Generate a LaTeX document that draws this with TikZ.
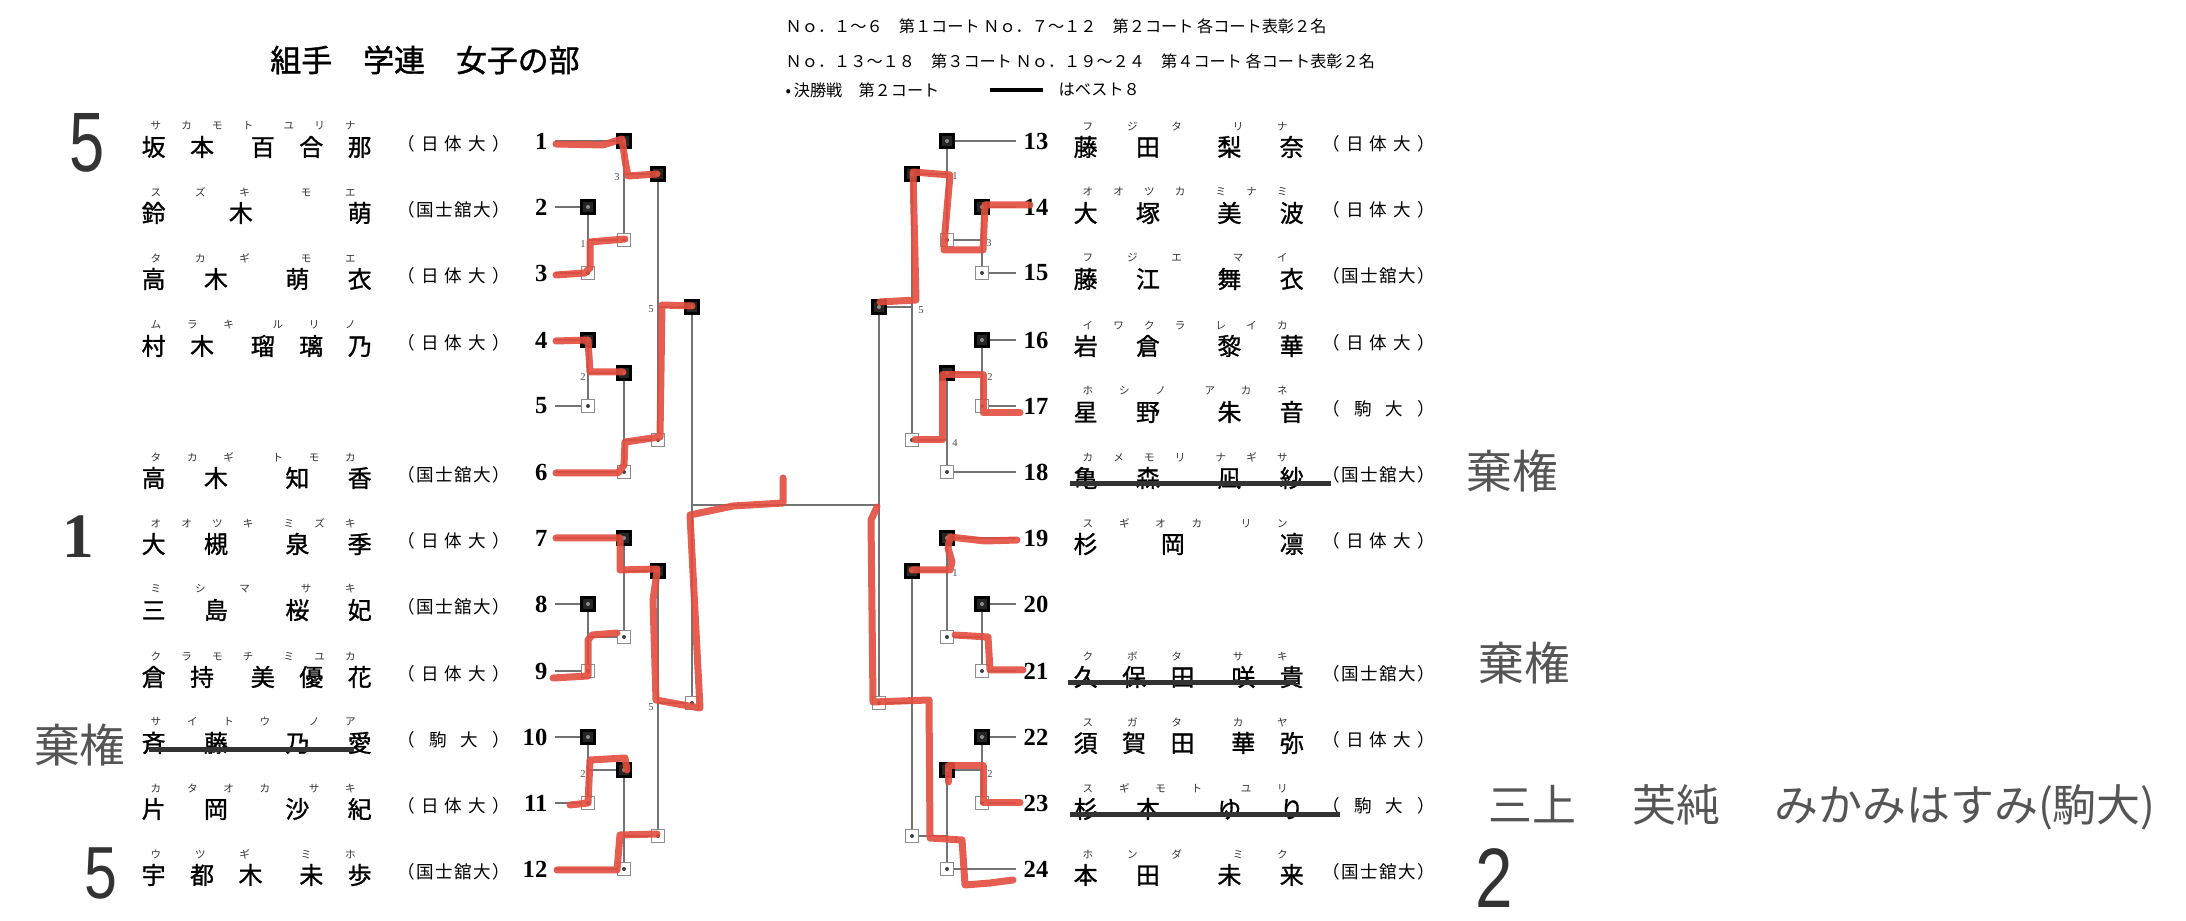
\documentclass[tikz,border=0pt]{standalone}
\usepackage{fontspec}
\setmainfont{Liberation Serif}
\newfontfamily\jp[AutoFakeBold=1.2]{Noto Sans CJK JP}
\newfontfamily\handfont{Liberation Sans}
\definecolor{handred}{RGB}{226,77,62}
\definecolor{notegray}{RGB}{85,85,85}

% spread the characters of a word over a fixed width
\newcommand{\spreadtxt}[1]{\spreadA#1\relax}
\def\spreadA#1#2\relax{#1\ifx\relax#2\relax\else\hfil\spreadA#2\relax\fi}
\newcommand{\plname}[2]{\hbox to 23mm{\spreadtxt{#1}\hfil\hskip 0pt plus .5fil\spreadtxt{#2}}}
\newcommand{\plkana}[2]{\hbox to 20.5mm{\spreadtxt{#1}\hfil\hskip 0pt plus .5fil\spreadtxt{#2}}}
\newcommand{\plschool}[1]{\hbox to 11.2mm{\spreadtxt{#1}}}

\begin{document}
\begin{tikzpicture}[x=0.1mm,y=-0.1mm,
  bline/.style={draw=black!55,line width=0.35pt},
  wbox/.style={draw=black,fill=black!85,line width=0.6pt,minimum size=1.3mm,inner sep=0pt,path picture={\fill[black!45] (path picture bounding box.center) circle (0.2mm);}},
  lbox/.style={draw=black!45,fill=white,line width=0.5pt,minimum size=1.3mm,inner sep=0pt,path picture={\fill[black!75] (path picture bounding box.center) circle (0.2mm);}},
  nm/.style={anchor=west,inner sep=0pt,font=\jp\bfseries\fontsize{6.8pt}{7pt}\selectfont},
  kn/.style={anchor=west,inner sep=0pt,font=\jp\fontsize{3pt}{3pt}\selectfont,text=black!80},
  sc/.style={anchor=west,inner sep=0pt,font=\jp\fontsize{5pt}{5pt}\selectfont},
  numl/.style={anchor=east,inner sep=0.7mm,font=\bfseries\fontsize{7pt}{7pt}\selectfont},
  numr/.style={anchor=west,inner sep=0.7mm,font=\bfseries\fontsize{7pt}{7pt}\selectfont},
  mlab/.style={inner sep=0pt,font=\fontsize{3pt}{3pt}\selectfont,text=black!70},
  hdr/.style={anchor=west,inner sep=0pt,font=\jp\fontsize{4.6pt}{5pt}\selectfont},
  note/.style={inner sep=0pt,text=notegray,font=\jp\fontsize{13pt}{14pt}\selectfont},
  hand/.style={inner sep=0pt,text=black!80,font=\handfont\fontsize{24pt}{24pt}\selectfont},
  strike/.style={draw=black!80,line width=0.5mm},
  redpen/.style={draw=handred,line width=0.7mm,line cap=round,line join=round,opacity=0.9}]

\useasboundingbox (0,0) rectangle (2186,921);

% header
\node[inner sep=0pt,font=\jp\bfseries\fontsize{8.8pt}{9pt}\selectfont] (title) at (425,60) {組手　学連　女子の部};
\node[hdr] (h1) at (785,26) {Ｎｏ．１～６　第１コート Ｎｏ．７～１２　第２コート 各コート表彰２名};
\node[hdr] (h2) at (785,61) {Ｎｏ．１３～１８　第３コート Ｎｏ．１９～２４　第４コート 各コート表彰２名};
\node[hdr] (h3) at (785,90) {•\,決勝戦　第２コート};
\node[hdr] (h4) at (1058,90) {はベスト８};
\draw[line width=0.45mm] ([xshift=5mm]h3.east) -- ([xshift=-1.5mm]h4.west);

% left names
\node[nm] (nm1) at (141,147) {\plname{坂本}{百合那}};
\node[kn] (kn1) at (150,126) {\plkana{サカモト}{ユリナ}};
\node[sc] (sc1) at (397,144) {\plschool{（日体大）}};
\node[numl] (e1) at (555,141) {1};
\node[nm] (nm2) at (141,213) {\plname{鈴木}{萌}};
\node[kn] (kn2) at (150,192) {\plkana{スズキ}{モエ}};
\node[sc] (sc2) at (397,210) {\plschool{（国士舘大）}};
\node[numl] (e2) at (555,207) {2};
\node[nm] (nm3) at (141,279) {\plname{高木}{萌衣}};
\node[kn] (kn3) at (150,258) {\plkana{タカギ}{モエ}};
\node[sc] (sc3) at (397,276) {\plschool{（日体大）}};
\node[numl] (e3) at (555,273) {3};
\node[nm] (nm4) at (141,346) {\plname{村木}{瑠璃乃}};
\node[kn] (kn4) at (150,325) {\plkana{ムラキ}{ルリノ}};
\node[sc] (sc4) at (397,343) {\plschool{（日体大）}};
\node[numl] (e4) at (555,340) {4};
\node[numl] (e5) at (555,406) {5};
\node[nm] (nm6) at (141,478) {\plname{高木}{知香}};
\node[kn] (kn6) at (150,457) {\plkana{タカギ}{トモカ}};
\node[sc] (sc6) at (397,475) {\plschool{（国士舘大）}};
\node[numl] (e6) at (555,472) {6};
\node[nm] (nm7) at (141,544) {\plname{大槻}{泉季}};
\node[kn] (kn7) at (150,523) {\plkana{オオツキ}{ミズキ}};
\node[sc] (sc7) at (397,541) {\plschool{（日体大）}};
\node[numl] (e7) at (555,538) {7};
\node[nm] (nm8) at (141,610) {\plname{三島}{桜妃}};
\node[kn] (kn8) at (150,589) {\plkana{ミシマ}{サキ}};
\node[sc] (sc8) at (397,607) {\plschool{（国士舘大）}};
\node[numl] (e8) at (555,604) {8};
\node[nm] (nm9) at (141,677) {\plname{倉持}{美優花}};
\node[kn] (kn9) at (150,656) {\plkana{クラモチ}{ミユカ}};
\node[sc] (sc9) at (397,674) {\plschool{（日体大）}};
\node[numl] (e9) at (555,671) {9};
\node[nm] (nm10) at (141,743) {\plname{斉藤}{乃愛}};
\node[kn] (kn10) at (150,722) {\plkana{サイトウ}{ノア}};
\node[sc] (sc10) at (397,740) {\plschool{（駒大）}};
\node[numl] (e10) at (555,737) {10};
\node[nm] (nm11) at (141,809) {\plname{片岡}{沙紀}};
\node[kn] (kn11) at (150,788) {\plkana{カタオカ}{サキ}};
\node[sc] (sc11) at (397,806) {\plschool{（日体大）}};
\node[numl] (e11) at (555,803) {11};
\node[nm] (nm12) at (141,875) {\plname{宇都木}{未歩}};
\node[kn] (kn12) at (150,854) {\plkana{ウツギ}{ミホ}};
\node[sc] (sc12) at (397,872) {\plschool{（国士舘大）}};
\node[numl] (e12) at (555,869) {12};

% right names
\node[nm] (nm13) at (1073,147) {\plname{藤田}{梨奈}};
\node[kn] (kn13) at (1082,126) {\plkana{フジタ}{リナ}};
\node[sc] (sc13) at (1322,144) {\plschool{（日体大）}};
\node[numr] (e13) at (1016,141) {13};
\node[nm] (nm14) at (1073,213) {\plname{大塚}{美波}};
\node[kn] (kn14) at (1082,192) {\plkana{オオツカ}{ミナミ}};
\node[sc] (sc14) at (1322,210) {\plschool{（日体大）}};
\node[numr] (e14) at (1016,207) {14};
\node[nm] (nm15) at (1073,279) {\plname{藤江}{舞衣}};
\node[kn] (kn15) at (1082,258) {\plkana{フジエ}{マイ}};
\node[sc] (sc15) at (1322,276) {\plschool{（国士舘大）}};
\node[numr] (e15) at (1016,273) {15};
\node[nm] (nm16) at (1073,346) {\plname{岩倉}{黎華}};
\node[kn] (kn16) at (1082,325) {\plkana{イワクラ}{レイカ}};
\node[sc] (sc16) at (1322,343) {\plschool{（日体大）}};
\node[numr] (e16) at (1016,340) {16};
\node[nm] (nm17) at (1073,412) {\plname{星野}{朱音}};
\node[kn] (kn17) at (1082,391) {\plkana{ホシノ}{アカネ}};
\node[sc] (sc17) at (1322,409) {\plschool{（駒大）}};
\node[numr] (e17) at (1016,406) {17};
\node[nm] (nm18) at (1073,478) {\plname{亀森}{凪紗}};
\node[kn] (kn18) at (1082,457) {\plkana{カメモリ}{ナギサ}};
\node[sc] (sc18) at (1322,475) {\plschool{（国士舘大）}};
\node[numr] (e18) at (1016,472) {18};
\node[nm] (nm19) at (1073,544) {\plname{杉岡}{凛}};
\node[kn] (kn19) at (1082,523) {\plkana{スギオカ}{リン}};
\node[sc] (sc19) at (1322,541) {\plschool{（日体大）}};
\node[numr] (e19) at (1016,538) {19};
\node[numr] (e20) at (1016,604) {20};
\node[nm] (nm21) at (1073,677) {\plname{久保田}{咲貴}};
\node[kn] (kn21) at (1082,656) {\plkana{クボタ}{サキ}};
\node[sc] (sc21) at (1322,674) {\plschool{（国士舘大）}};
\node[numr] (e21) at (1016,671) {21};
\node[nm] (nm22) at (1073,743) {\plname{須賀田}{華弥}};
\node[kn] (kn22) at (1082,722) {\plkana{スガタ}{カヤ}};
\node[sc] (sc22) at (1322,740) {\plschool{（日体大）}};
\node[numr] (e22) at (1016,737) {22};
\node[nm] (nm23) at (1073,809) {\plname{杉本}{ゆり}};
\node[kn] (kn23) at (1082,788) {\plkana{スギモト}{ユリ}};
\node[sc] (sc23) at (1322,806) {\plschool{（駒大）}};
\node[numr] (e23) at (1016,803) {23};
\node[nm] (nm24) at (1073,875) {\plname{本田}{未来}};
\node[kn] (kn24) at (1082,854) {\plkana{ホンダ}{ミク}};
\node[sc] (sc24) at (1322,872) {\plschool{（国士舘大）}};
\node[numr] (e24) at (1016,869) {24};

% left boxes
\node[wbox] (b1) at (624,141) {};
\node[wbox] (b2) at (588,207) {};
\node[lbox] (b3) at (588,273) {};
\node[wbox] (b4) at (588,340) {};
\node[lbox] (b5) at (588,406) {};
\node[lbox] (b6) at (624,472) {};
\node[wbox] (b7) at (624,538) {};
\node[wbox] (b8) at (588,604) {};
\node[lbox] (b9) at (588,671) {};
\node[wbox] (b10) at (588,737) {};
\node[lbox] (b11) at (588,803) {};
\node[lbox] (b12) at (624,869) {};
\node[lbox] (w23) at (624,240) {};
\node[wbox] (w1b) at (658,174) {};
\node[wbox] (wD) at (624,373) {};
\node[lbox] (wE) at (658,440) {};
\node[wbox] (sL1) at (692,307) {};
\node[lbox] (wG) at (624,637) {};
\node[wbox] (wH) at (658,571) {};
\node[wbox] (wI) at (624,770) {};
\node[lbox] (wJ) at (658,836) {};
\node[lbox] (sL2) at (692,703) {};

% right boxes
\node[wbox] (b13) at (947,141) {};
\node[wbox] (b14) at (982,207) {};
\node[lbox] (b15) at (982,273) {};
\node[wbox] (b16) at (982,340) {};
\node[lbox] (b17) at (982,406) {};
\node[lbox] (b18) at (947,472) {};
\node[wbox] (b19) at (947,538) {};
\node[wbox] (b20) at (982,604) {};
\node[lbox] (b21) at (982,671) {};
\node[wbox] (b22) at (982,737) {};
\node[lbox] (b23) at (982,803) {};
\node[lbox] (b24) at (947,869) {};
\node[lbox] (v14) at (947,240) {};
\node[wbox] (v13) at (912,174) {};
\node[wbox] (v16) at (947,373) {};
\node[lbox] (v18) at (912,440) {};
\node[wbox] (sR1) at (879,307) {};
\node[lbox] (v20) at (947,637) {};
\node[wbox] (v19) at (912,571) {};
\node[wbox] (v22) at (947,770) {};
\node[lbox] (v24) at (912,836) {};
\node[lbox] (sR2) at (879,703) {};
\coordinate (fin) at (785,505);

% entry lines
\foreach \i in {1,...,24}{
  \draw[bline] (e\i) -- (b\i);
}

% left bracket
\draw[bline] (b2) -- (b3);  \draw[bline] (b2) |- (w23);
\draw[bline] (b1) -- (w23); \draw[bline] (b1) |- (w1b);
\draw[bline] (b4) -- (b5);  \draw[bline] (b4) |- (wD);
\draw[bline] (wD) -- (b6);  \draw[bline] (wD) |- (wE);
\draw[bline] (w1b) -- (wE); \draw[bline] (w1b) |- (sL1);
\draw[bline] (b8) -- (b9);  \draw[bline] (b8) |- (wG);
\draw[bline] (b7) -- (wG);  \draw[bline] (b7) |- (wH);
\draw[bline] (b10) -- (b11); \draw[bline] (b10) |- (wI);
\draw[bline] (wI) -- (b12); \draw[bline] (wI) |- (wJ);
\draw[bline] (wH) -- (wJ);  \draw[bline] (wH) |- (sL2);
\draw[bline] (sL1) -- (sL2);

% right bracket
\draw[bline] (b14) -- (b15); \draw[bline] (b14) |- (v14);
\draw[bline] (b13) -- (v14); \draw[bline] (b13) |- (v13);
\draw[bline] (b16) -- (b17); \draw[bline] (b16) |- (v16);
\draw[bline] (v16) -- (b18); \draw[bline] (v16) |- (v18);
\draw[bline] (v13) -- (v18); \draw[bline] (v13) |- (sR1);
\draw[bline] (b20) -- (b21); \draw[bline] (b20) |- (v20);
\draw[bline] (b19) -- (v20); \draw[bline] (b19) |- (v19);
\draw[bline] (b22) -- (b23); \draw[bline] (b22) |- (v22);
\draw[bline] (v22) -- (b24); \draw[bline] (v22) |- (v24);
\draw[bline] (v19) -- (v24); \draw[bline] (v19) |- (sR2);
\draw[bline] (sR1) -- (sR2);

% final
\draw[bline] (sL1 |- fin) -- (sR1 |- fin);

% court numbers
\node[mlab] at (617,177) {3};
\node[mlab] at (583,244) {1};
\node[mlab] at (583,377) {2};
\node[mlab] at (651,309) {5};
\node[mlab] at (651,707) {5};
\node[mlab] at (583,774) {2};
\node[mlab] at (955,176) {1};
\node[mlab] at (989,243) {3};
\node[mlab] at (921,310) {5};
\node[mlab] at (990,377) {2};
\node[mlab] at (955,443) {4};
\node[mlab] at (955,573) {1};
\node[mlab] at (990,774) {2};
\node[mlab] at (956,840) {1};

% strike outs
\draw[strike] (nm10.west) ++(8,7) -- ++(205,0);
\draw[strike] (nm18.west) ++(-3,6) -- ++(261,0);
\draw[strike] (nm21.west) ++(-5,6) -- ++(228,0);
\draw[strike] (nm23.west) ++(-3,6) -- ++(270,0);

% red pen, left
\draw[redpen] (556,144) -- (603,145) -- (622,139) -- (625,160) -- (628,176) -- (657,174);
\draw[redpen] (556,275) -- (585,273) -- (590,268) -- (590,242) -- (625,239);
\draw[redpen] (556,341) -- (588,340) -- (590,372) -- (623,372);
\draw[redpen] (556,473) -- (618,473) -- (624,465) -- (625,442) -- (660,437) -- (662,305) -- (692,306);
\draw[redpen] (556,538) -- (620,538) -- (620,570) -- (657,569);
\draw[redpen] (657,572) -- (653,600) -- (656,700) -- (700,708) -- (690,515) -- (733,506) -- (783,503) -- (783,478);
\draw[redpen] (553,678) -- (588,676) -- (588,640) -- (592,635) -- (617,633);
\draw[redpen] (570,805) -- (588,803) -- (590,760) -- (625,758) -- (627,770);
\draw[redpen] (557,870) -- (617,870) -- (620,835) -- (657,834);

% red pen, right
\draw[redpen] (1030,205) -- (985,205) -- (983,250) -- (944,250) -- (945,232) -- (950,175) -- (913,172) -- (916,300) -- (880,302);
\draw[redpen] (1020,413) -- (983,413) -- (983,375) -- (942,375) -- (942,440) -- (915,440);
\draw[redpen] (1017,540) -- (985,541) -- (950,537) -- (948,548) -- (952,562) -- (950,570) -- (912,570);
\draw[redpen] (1023,670) -- (990,670) -- (988,637) -- (955,635);
\draw[redpen] (1020,803) -- (983,803) -- (983,766) -- (948,766) -- (948,782);
\draw[redpen] (1013,880) -- (990,883) -- (965,885) -- (962,840) -- (930,838) -- (929,700) -- (873,702) -- (871,520) -- (877,507);

% notes
\node[note] (kiken1) at (80,745) {棄権};
\node[note] (kiken2) at (1512,471) {棄権};
\node[note] (kiken3) at (1524,663) {棄権};
\node[note,anchor=west,font=\jp\fontsize{12.5pt}{13pt}\selectfont] (mikami) at (1488,807) {三上\hspace{5.6mm}芙純\hspace{5.4mm}みかみはすみ(駒大)};
\node[hand] (mk5a) at (87,143) {\scalebox{0.75}[1]{5}};
\node[hand,font=\bfseries\fontsize{18pt}{18pt}\selectfont] (mk1) at (78,537) {1};
\node[hand,font=\handfont\fontsize{21pt}{21pt}\selectfont] (mk5b) at (101,873) {\scalebox{0.8}[1]{5}};
\node[hand] (mk2) at (1494,878) {\scalebox{0.8}[1]{2}};

\end{tikzpicture}
\end{document}
